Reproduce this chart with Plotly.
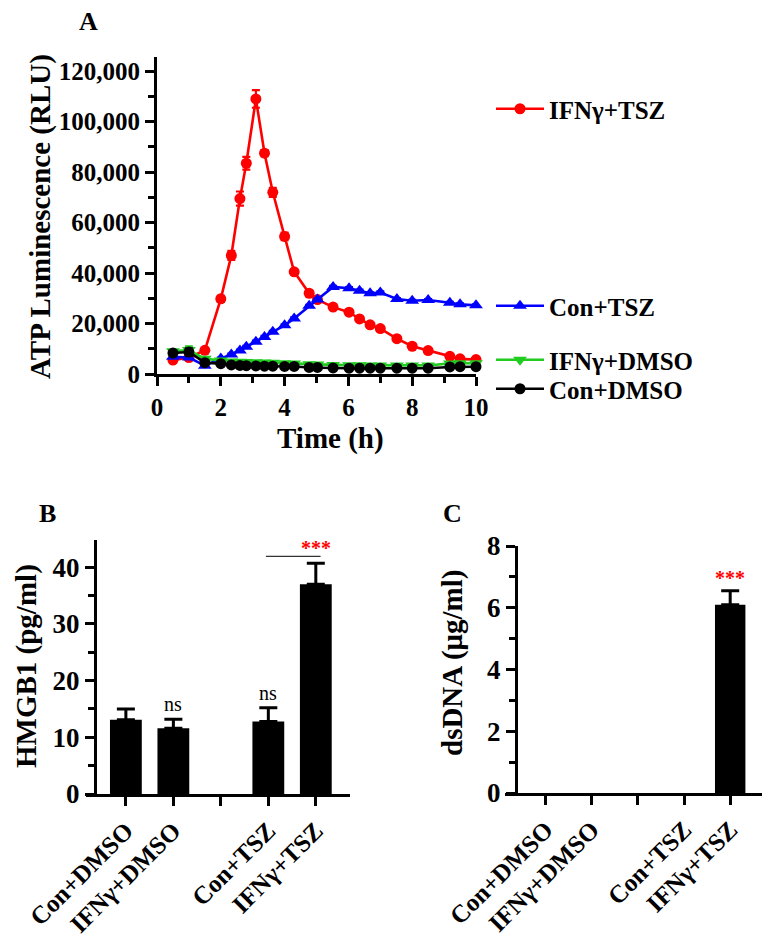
import plotly.graph_objects as go

# ---------------- data ----------------
time_h = [0.5, 1.0, 1.5, 2.0, 2.33, 2.6, 2.8, 3.1, 3.37, 3.63, 4.0, 4.3, 4.77, 5.03,
          5.52, 6.02, 6.35, 6.68, 7.0, 7.52, 8.0, 8.5, 9.18, 9.5, 10.0]
ifn_tsz = [5500, 6500, 9400, 29800, 47000, 69500, 83500, 109000, 87500, 72000, 54500,
           40500, 32000, 29500, 26500, 24500, 21800, 19500, 18000, 14000, 11000, 9300,
           7000, 6000, 5700]
ifn_tsz_err = [500, 500, 800, 1200, 1800, 2800, 2500, 3500, 1200, 1800, 1500, 800, 800,
               600, 600, 600, 500, 500, 500, 500, 400, 400, 400, 400, 400]
con_tsz = [6800, 6500, 3300, 6100, 7700, 9300, 10800, 12800, 14700, 16700, 19300, 22000,
           27000, 29500, 34500, 34000, 33000, 32000, 32300, 29700, 29000, 29300, 28200,
           27600, 27200]
con_tsz_err = [400] * len(time_h)
ifn_dmso = [9000, 9500, 6000, 5300, 5000, 4900, 4800, 4700, 4600, 4500, 4300, 4200, 3900,
            3800, 3600, 3500, 3500, 3400, 3400, 3400, 3400, 3400, 4200, 4300, 4300]
ifn_dmso_err = [600, 1500, 500, 400, 300, 300, 300, 300, 300, 300, 300, 300, 300, 300,
                300, 300, 300, 300, 300, 300, 300, 300, 300, 300, 300]
con_dmso = [8300, 8700, 4500, 4100, 3600, 3400, 3300, 3200, 3100, 3100, 3000, 3000, 2600,
            2600, 2400, 2300, 2300, 2300, 2300, 2300, 2300, 2300, 2800, 2900, 2900]
con_dmso_err = [600, 1500, 500, 400, 300, 300, 300, 300, 300, 300, 300, 300, 300, 300,
                300, 300, 300, 300, 300, 300, 300, 300, 300, 300, 300]

axis_slots = ["Con+DMSO", "IFNγ+DMSO", " ", "Con+TSZ", "IFNγ+TSZ"]
groups = ["Con+DMSO", "IFNγ+DMSO", "Con+TSZ", "IFNγ+TSZ"]
hmgb1 = [13.1, 11.6, 12.8, 37.0]
hmgb1_err = [1.9, 1.6, 2.4, 3.7]
dsdna = [0, 0, 0, 6.1]
dsdna_err = [0, 0, 0, 0.45]

y_ticks_a = [0, 20000, 40000, 60000, 80000, 100000, 120000]
x_ticks_a = [0, 2, 4, 6, 8, 10]

# ---------------- style ----------------
FONT = "Liberation Serif, Times New Roman, serif"
W, H = 774, 940
OFF = 8  # page body margin


def px(v):
    return (v - OFF) / W


def py(v):
    return 1 - (v - OFF) / H


fig = go.Figure()

series = [
    ("IFNγ+TSZ", ifn_tsz, ifn_tsz_err, "#ff0000", "circle", "legend"),
    ("Con+TSZ", con_tsz, con_tsz_err, "#0000ff", "triangle-up", "legend2"),
    ("IFNγ+DMSO", ifn_dmso, ifn_dmso_err, "#1fcc1f", "triangle-down", "legend3"),
    ("Con+DMSO", con_dmso, con_dmso_err, "#000000", "circle", "legend4"),
]
for name, vals, errs, col, sym, leg in series:
    fig.add_trace(go.Scatter(
        x=time_h, y=vals, name=name, mode="lines+markers",
        line=dict(color=col, width=2.6),
        marker=dict(color=col, symbol=sym, size=11 if sym == "circle" else 12),
        error_y=dict(type="data", array=errs, color=col, thickness=2.2, width=4),
        xaxis="x", yaxis="y", legend=leg, cliponaxis=False,
    ))

fig.add_trace(go.Bar(
    x=groups, y=hmgb1, marker=dict(color="black", line=dict(width=0)), width=0.67,
    error_y=dict(type="data", array=hmgb1_err, arrayminus=[0] * len(groups),
                 symmetric=False, color="black", thickness=3, width=9),
    xaxis="x2", yaxis="y2", showlegend=False,
))
# bars with a zero value are not drawn (nothing visible in the reference)
shown = [i for i, v in enumerate(dsdna) if v > 0]
fig.add_trace(go.Bar(
    x=[groups[i] for i in shown], y=[dsdna[i] for i in shown],
    marker=dict(color="black", line=dict(width=0)), width=0.66,
    error_y=dict(type="data", array=[dsdna_err[i] for i in shown],
                 arrayminus=[0] * len(shown), symmetric=False, color="black",
                 thickness=3, width=9),
    xaxis="x3", yaxis="y3", showlegend=False,
))

tickfont = dict(family=FONT, size=25, color="black", weight="bold")
axis_common = dict(showline=True, linecolor="black", linewidth=3.2, ticks="outside",
                   tickcolor="black", tickwidth=3, ticklen=9, showgrid=False,
                   zeroline=False, tickfont=tickfont, automargin=False)
minor_style = dict(ticklen=6, tickwidth=3, tickcolor="black", ticks="outside")

legend_common = dict(xanchor="left", yanchor="middle", bgcolor="rgba(0,0,0,0)",
                     font=dict(family=FONT, size=25, color="black", weight="bold"),
                     itemwidth=48, x=px(491))

fig.update_layout(
    template="none",
    width=W, height=H, margin=dict(l=0, r=0, t=0, b=0, autoexpand=False),
    paper_bgcolor="white", plot_bgcolor="white",
    font=dict(family=FONT, color="black"),
    xaxis=dict(domain=[px(157), px(476)], range=[0, 10], tickvals=x_ticks_a,
               minor=dict(dtick=1, **minor_style), anchor="y", **axis_common),
    yaxis=dict(domain=[py(374), py(57)], range=[0, 125600], tickvals=y_ticks_a,
               tickformat=",d", minor=dict(dtick=10000, **minor_style),
               anchor="x", **axis_common),
    xaxis2=dict(domain=[px(86), px(350)], range=[-0.84, 4.72], type="category",
                categoryorder="array", categoryarray=axis_slots, tickangle=-45,
                anchor="y2", **axis_common),
    yaxis2=dict(domain=[py(794), py(540)], range=[0, 44.8], dtick=10,
                minor=dict(dtick=5, **minor_style), anchor="free", position=px(95),
                **{**axis_common, "tickfont": dict(tickfont, size=27)}),
    xaxis3=dict(domain=[px(505), px(762)], range=[-0.885, 4.69], type="category",
                categoryorder="array", categoryarray=axis_slots, tickangle=-45,
                anchor="y3", **axis_common),
    yaxis3=dict(domain=[py(793), py(546)], range=[0, 8], dtick=2,
                minor=dict(dtick=1, **minor_style), anchor="free", position=px(516),
                **{**axis_common, "tickfont": dict(tickfont, size=27)}),
    legend=dict(y=py(109), **legend_common),
    legend2=dict(y=py(306), **legend_common),
    legend3=dict(y=py(360), **legend_common),
    legend4=dict(y=py(389), **legend_common),
)

title_font = dict(family=FONT, size=29, color="black", weight="bold")
letter_font = dict(family=FONT, size=26, color="black", weight="bold")


def paper_text(text, x, y, font, angle=0):
    return dict(text=text, x=px(x), y=py(y), xref="paper", yref="paper",
                xanchor="center", yanchor="middle", textangle=angle,
                showarrow=False, font=font)


annotations = [
    paper_text("A", 88, 22, letter_font),
    paper_text("B", 47, 513, letter_font),
    paper_text("C", 452, 513, letter_font),
    paper_text("ATP Luminescence (RLU)", 40, 217, title_font, -90),
    paper_text("Time (h)", 330, 439, title_font),
    paper_text("HMGB1 (pg/ml)", 26, 666, title_font, -90),
    paper_text("dsDNA (μg/ml)", 452, 663, title_font, -90),
    dict(text="ns", x=groups[1], y=hmgb1[1] + hmgb1_err[1] + 2.6, xref="x2", yref="y2",
         xanchor="center", yanchor="middle", showarrow=False,
         font=dict(family=FONT, size=20, color="black")),
    dict(text="ns", x=groups[2], y=hmgb1[2] + hmgb1_err[2] + 2.6, xref="x2", yref="y2",
         xanchor="center", yanchor="middle", showarrow=False,
         font=dict(family=FONT, size=20, color="black")),
    dict(text="***", x=groups[3], y=43.4, xref="x2", yref="y2", xanchor="center",
         yanchor="middle", showarrow=False,
         font=dict(family=FONT, size=20, color="#ff0000", weight="bold")),
    dict(text="***", x=groups[3], y=6.95, xref="x3", yref="y3", xanchor="center",
         yanchor="middle", showarrow=False,
         font=dict(family=FONT, size=20, color="#ff0000", weight="bold")),
]
fig.update_layout(annotations=annotations)
fig.add_shape(type="line", xref="x2", yref="y2", x0=2.95, x1=4.1, y0=41.9, y1=41.9,
              line=dict(color="#333333", width=1.2))

fig.write_html("out.html")
